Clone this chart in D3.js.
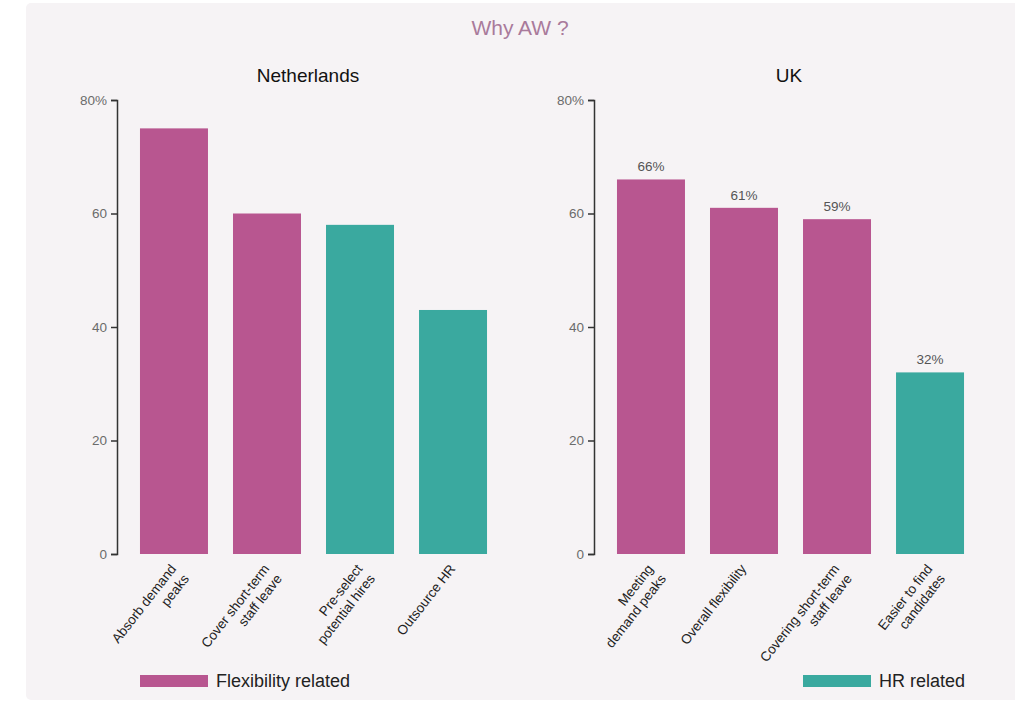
<!DOCTYPE html>
<html>
<head>
<meta charset="utf-8">
<script src="https://cdn.jsdelivr.net/npm/d3@7"></script>
<style>
  html, body { margin: 0; padding: 0; background: #ffffff; }
  svg { display: block; }
</style>
</head>
<body>
<svg id="chart" width="1015" height="703"></svg>
<script>
// Survey data: reasons for using agency work
const nlCategories = ["Absorb demand\npeaks", "Cover short-term\nstaff leave", "Pre-select\npotential hires", "Outsource HR"];
const nlValues = [75, 60, 58, 43];
const nlGroups = ["flex", "flex", "hr", "hr"];

const ukCategories = ["Meeting\ndemand peaks", "Overall flexibility", "Covering short-term\nstaff leave", "Easier to find\ncandidates"];
const ukValues = [66, 61, 59, 32];
const ukGroups = ["flex", "flex", "flex", "hr"];

const yTicks = [0, 20, 40, 60, 80];
const legendLabels = { flex: "Flexibility related", hr: "HR related" };
const colors = { flex: "#b85690", hr: "#3aa99f" };

const svg = d3.select("#chart");
const FONT = "'Liberation Sans', Arial, sans-serif";

// background panel
svg.append("rect")
  .attr("x", 26).attr("y", 3).attr("width", 995).attr("height", 697)
  .attr("rx", 5).attr("fill", "#f6f3f5");

svg.append("text")
  .attr("x", 520).attr("y", 35)
  .attr("text-anchor", "middle")
  .attr("font-family", FONT).attr("font-size", 21)
  .attr("fill", "#a97a9b")
  .text("Why AW ?");

const y = d3.scaleLinear().domain([0, 80]).range([554, 100]);

function panel(opts) {
  const { title, titleX, axisX, xEnd, cats, vals, groups, showValues } = opts;
  const g = svg.append("g");

  g.append("text")
    .attr("x", titleX).attr("y", 82)
    .attr("text-anchor", "middle")
    .attr("font-family", FONT).attr("font-size", 19)
    .attr("fill", "#111")
    .text(title);

  const x = d3.scaleBand()
    .domain(d3.range(cats.length))
    .range([axisX, xEnd])
    .paddingInner(0.269)
    .paddingOuter(0.247);

  // y axis
  const axis = d3.axisLeft(y)
    .tickValues(yTicks)
    .tickSize(6)
    .tickSizeOuter(6)
    .tickFormat(d => d === 80 ? "80%" : d);
  const ax = g.append("g")
    .attr("transform", `translate(${axisX},0)`)
    .call(axis);
  ax.selectAll("path.domain").attr("stroke", "#333").attr("stroke-width", 1.5);
  ax.selectAll(".tick line").attr("stroke", "#333").attr("stroke-width", 1.5);
  ax.selectAll(".tick text")
    .attr("font-family", FONT).attr("font-size", 13.5)
    .attr("fill", "#6b6b6b").attr("x", -10);

  // bars
  g.selectAll("rect.bar")
    .data(vals)
    .join("rect")
    .attr("class", "bar")
    .attr("x", (d, i) => x(i))
    .attr("width", x.bandwidth())
    .attr("y", d => y(d))
    .attr("height", d => y(0) - y(d))
    .attr("fill", (d, i) => colors[groups[i]]);

  if (showValues) {
    g.selectAll("text.val")
      .data(vals)
      .join("text")
      .attr("class", "val")
      .attr("x", (d, i) => x(i) + x.bandwidth() / 2)
      .attr("y", d => y(d) - 8)
      .attr("text-anchor", "middle")
      .attr("font-family", FONT).attr("font-size", 13.5)
      .attr("fill", "#555")
      .text(d => d + "%");
  }

  // rotated category labels
  cats.forEach((c, i) => {
    const cx = x(i) + x.bandwidth() / 2;
    const t = g.append("text")
      .attr("transform", `translate(${cx + 3},${569}) rotate(-52)`)
      .attr("text-anchor", "end")
      .attr("font-family", FONT).attr("font-size", 13.5)
      .attr("fill", "#222");
    c.split("\n").forEach((line, k) => {
      t.append("tspan")
        .attr("x", 0)
        .attr("dy", k === 0 ? 0 : 16)
        .text(line);
    });
  });
}

panel({
  title: "Netherlands", titleX: 308, axisX: 117, xEnd: 510,
  cats: nlCategories, vals: nlValues, groups: nlGroups, showValues: false
});

panel({
  title: "UK", titleX: 789, axisX: 594, xEnd: 987,
  cats: ukCategories, vals: ukValues, groups: ukGroups, showValues: true
});

// legend
const legendItems = [
  { key: "flex", x: 140 },
  { key: "hr", x: 803 }
];
const lg = svg.append("g");
lg.selectAll("rect")
  .data(legendItems)
  .join("rect")
  .attr("x", d => d.x).attr("y", 675)
  .attr("width", 68).attr("height", 12)
  .attr("fill", d => colors[d.key]);
lg.selectAll("text")
  .data(legendItems)
  .join("text")
  .attr("x", d => d.x + 76).attr("y", 687)
  .attr("font-family", FONT).attr("font-size", 18)
  .attr("fill", "#222")
  .text(d => legendLabels[d.key]);
</script>
</body>
</html>
